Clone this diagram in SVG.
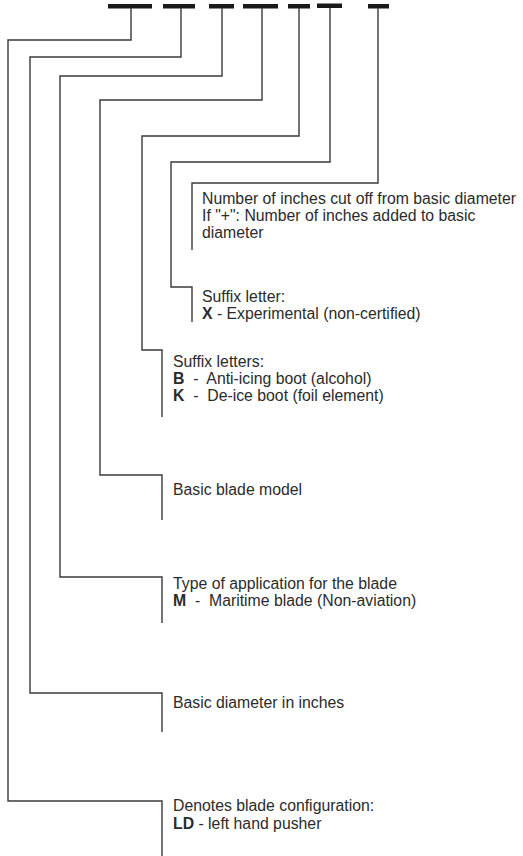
<svg xmlns="http://www.w3.org/2000/svg" width="523" height="856" viewBox="0 0 523 856">
<style>
.bar{fill:#1a1a1a}
.ln{fill:none;stroke:#3a3a3a;stroke-width:1.4}
text{font-family:"Liberation Sans",Arial,sans-serif;font-size:15.8px;fill:#2b2b2b;white-space:pre}
.b{font-weight:bold}
</style>
<rect width="523" height="856" fill="#fff"/>
<g id="bars">
<rect class="bar" x="108" y="4" width="44" height="4.5"/>
<rect class="bar" x="163" y="4" width="32" height="4.5"/>
<rect class="bar" x="209" y="4" width="25" height="4.5"/>
<rect class="bar" x="243" y="4" width="35" height="4.5"/>
<rect class="bar" x="288" y="4" width="22" height="4.5"/>
<rect class="bar" x="317" y="3.5" width="25" height="4.5"/>
<rect class="bar" x="368" y="4" width="21" height="4.5"/>
</g>
<g id="connectors">
<polyline class="ln" points="131,8 131,40 8,40 8,801 162,801 162,856"/>
<polyline class="ln" points="181,8 181,57 30,57 30,693 162,693 162,732"/>
<polyline class="ln" points="222,8 222,76 60,76 60,577 162,577 162,623"/>
<polyline class="ln" points="262,8 262,100 100,100 100,475 162,475 162,520"/>
<polyline class="ln" points="299,8 299,136 142,136 142,350 162,350 162,417"/>
<polyline class="ln" points="330,8 330,162 171,162 171,287 192,287 192,322"/>
<polyline class="ln" points="378,8 378,183 192,183 192,250"/>
</g>
<g id="n7">
<text x="202" y="204">Number of inches cut off from basic diameter</text>
<text x="202" y="221">If "+": Number of inches added to basic</text>
<text x="202" y="238">diameter</text>
</g>
<g id="n6">
<text x="202" y="302">Suffix letter:</text>
<text x="202" y="319"><tspan class="b">X</tspan> - Experimental (non-certified)</text>
</g>
<g id="n5">
<text x="173" y="367">Suffix letters:</text>
<text x="173" y="384"><tspan class="b">B</tspan>  -  Anti-icing boot (alcohol)</text>
<text x="173" y="401"><tspan class="b">K</tspan>  -  De-ice boot (foil element)</text>
</g>
<g id="n4">
<text x="173" y="495">Basic blade model</text>
</g>
<g id="n3">
<text x="173" y="589">Type of application for the blade</text>
<text x="173" y="606"><tspan class="b">M</tspan>  -  Maritime blade (Non-aviation)</text>
</g>
<g id="n2">
<text x="173" y="708">Basic diameter in inches</text>
</g>
<g id="n1">
<text x="173" y="811">Denotes blade configuration:</text>
<text x="173" y="829"><tspan class="b">LD</tspan> - left hand pusher</text>
</g>
</svg>
